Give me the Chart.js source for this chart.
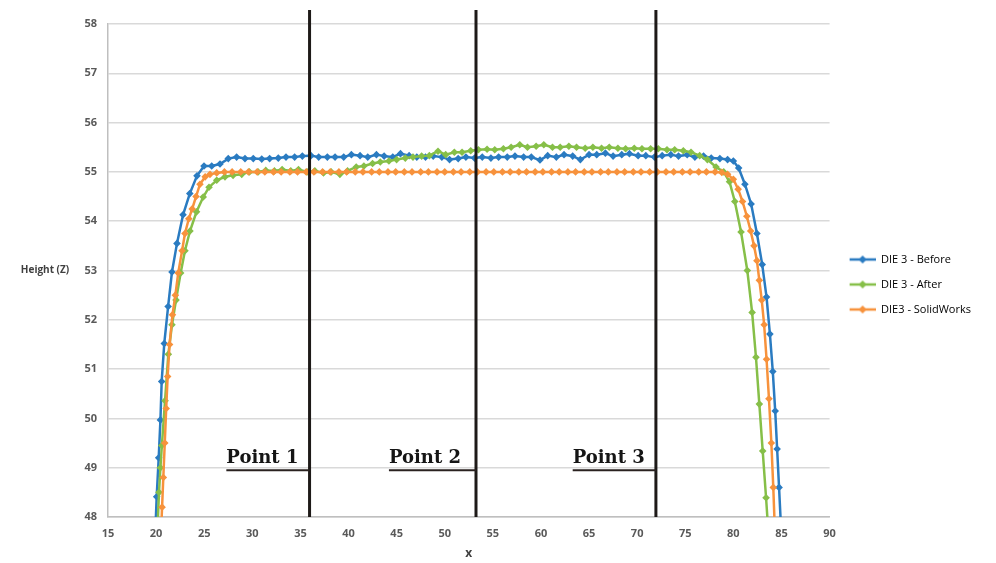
<!DOCTYPE html>
<html>
<head>
<meta charset="utf-8">
<script src="https://cdn.jsdelivr.net/npm/chart.js@4/dist/chart.umd.min.js"></script>
<style>
  html, body { margin: 0; padding: 0; background: #fff; }
  #wrap { width: 996px; height: 563px; position: relative; }
</style>
</head>
<body>
<div id="wrap"><canvas id="chart"></canvas></div>
<script>
// DIE 3 - Before
const beforeX = [19.9, 20.06, 20.27, 20.45, 20.58, 20.85, 21.25, 21.65, 22.17, 22.8,
  23.5, 24.25, 24.98, 25.78, 26.64, 27.5, 28.37, 29.24, 30.1, 30.98,
  31.8, 32.7, 33.5, 34.4, 35.2, 36.1, 36.9, 37.8, 38.6, 39.5,
  40.3, 41.2, 42.0, 42.9, 43.7, 44.6, 45.4, 46.3, 47.1, 48.0,
  48.8, 49.7, 50.5, 51.4, 52.2, 53.1, 53.9, 54.8, 55.6, 56.5,
  57.3, 58.2, 59.0, 59.9, 60.7, 61.6, 62.4, 63.3, 64.1, 65.0,
  65.8, 66.7, 67.5, 68.4, 69.2, 70.1, 70.9, 71.8, 72.6, 73.5,
  74.3, 75.2, 76.0, 76.9, 77.7, 78.6, 79.4, 80.0, 80.55, 81.2,
  81.85, 82.45, 83.0, 83.45, 83.8, 84.1, 84.35, 84.55, 84.75, 84.95];
const beforeY = [47.6, 48.41, 49.2, 49.97, 50.75, 51.52, 52.27, 52.97, 53.55, 54.13,
  54.56, 54.92, 55.12, 55.12, 55.16, 55.27, 55.3, 55.27, 55.27, 55.26,
  55.27, 55.28, 55.3, 55.3, 55.32, 55.33, 55.3, 55.3, 55.3, 55.3,
  55.35, 55.33, 55.3, 55.35, 55.32, 55.3, 55.37, 55.33, 55.3, 55.3,
  55.32, 55.3, 55.25, 55.27, 55.3, 55.28, 55.3, 55.28, 55.3, 55.3,
  55.32, 55.3, 55.3, 55.24, 55.33, 55.3, 55.35, 55.32, 55.25, 55.35,
  55.35, 55.38, 55.32, 55.35, 55.37, 55.33, 55.33, 55.3, 55.33, 55.35,
  55.32, 55.35, 55.3, 55.32, 55.28, 55.27, 55.25, 55.22, 55.08, 54.75,
  54.35, 53.75, 53.12, 52.46, 51.71, 50.95, 50.15, 49.38, 48.6, 47.8];

// DIE 3 - After
const afterX = [20.15, 20.3, 20.45, 20.6, 20.93, 21.27, 21.65, 22.07, 22.55, 23.0,
  23.52, 24.2, 24.9, 25.5, 26.3, 27.16, 28.0, 28.9, 29.7, 30.6,
  31.4, 32.3, 33.1, 34.0, 34.8, 35.7, 36.5, 37.4, 38.2, 39.1,
  39.9, 40.8, 41.6, 42.5, 43.3, 44.2, 45.0, 45.9, 46.7, 47.6,
  48.4, 49.3, 50.1, 51.0, 51.8, 52.7, 53.5, 54.4, 55.2, 56.1,
  56.9, 57.8, 58.6, 59.5, 60.3, 61.2, 62.0, 62.9, 63.7, 64.6,
  65.4, 66.3, 67.1, 68.0, 68.8, 69.7, 70.5, 71.4, 72.2, 73.1,
  73.9, 74.8, 75.6, 76.5, 77.3, 78.2, 79.0, 79.6, 80.15, 80.8,
  81.45, 81.95, 82.35, 82.7, 83.05, 83.4, 83.6];
const afterY = [47.8, 48.5, 49.0, 49.45, 50.36, 51.3, 51.9, 52.4, 52.95, 53.4,
  53.8, 54.19, 54.49, 54.69, 54.83, 54.9, 54.93, 54.95, 55.0, 55.0,
  55.03, 55.02, 55.05, 55.02, 55.05, 55.0, 55.02, 54.98, 55.0, 54.95,
  55.02, 55.1, 55.12, 55.17, 55.2, 55.22, 55.25, 55.28, 55.3, 55.32,
  55.33, 55.42, 55.35, 55.4, 55.4, 55.43, 55.45, 55.46, 55.45, 55.47,
  55.5, 55.55, 55.5, 55.52, 55.55, 55.5, 55.5, 55.52, 55.5, 55.48,
  55.5, 55.48, 55.5, 55.48, 55.47, 55.48, 55.47, 55.47, 55.47, 55.45,
  55.45, 55.43, 55.4, 55.33, 55.25, 55.1, 55.0, 54.8, 54.4, 53.78,
  53.0, 52.15, 51.24, 50.29, 49.34, 48.39, 47.8];

// DIE3 - SolidWorks
const swX = [20.5, 20.62, 20.75, 20.9, 21.05, 21.2, 21.4, 21.7, 22.0, 22.3,
  22.7, 23.0, 23.4, 23.75, 24.15, 24.56, 25.1, 25.6, 26.3, 27.1,
  27.9, 28.8, 29.6, 30.5, 31.3, 32.2, 33.0, 33.9, 34.7, 35.6,
  36.4, 37.3, 38.1, 39.0, 39.8, 40.7, 41.5, 42.4, 43.2, 44.1,
  44.9, 45.8, 46.6, 47.5, 48.3, 49.2, 50.0, 50.9, 51.7, 52.6,
  53.4, 54.3, 55.1, 56.0, 56.8, 57.7, 58.5, 59.4, 60.2, 61.1,
  61.9, 62.8, 63.6, 64.5, 65.3, 66.2, 67.0, 67.9, 68.7, 69.6,
  70.4, 71.3, 72.1, 73.0, 73.8, 74.7, 75.5, 76.4, 77.2, 78.1,
  78.8, 79.4, 80.0, 80.5, 80.95, 81.4, 81.8, 82.15, 82.45, 82.7,
  82.95, 83.2, 83.45, 83.7, 83.95, 84.15, 84.3];
const swY = [47.6, 48.2, 48.8, 49.5, 50.2, 50.85, 51.5, 52.1, 52.5, 52.95,
  53.4, 53.75, 54.05, 54.25, 54.5, 54.75, 54.9, 54.95, 54.98, 55.0,
  55, 55, 55, 55, 55, 55, 55, 55, 55, 55,
  55, 55, 55, 55, 55, 55, 55, 55, 55, 55,
  55, 55, 55, 55, 55, 55, 55, 55, 55, 55,
  55, 55, 55, 55, 55, 55, 55, 55, 55, 55,
  55, 55, 55, 55, 55, 55, 55, 55, 55, 55,
  55, 55, 55, 55, 55, 55, 55, 55, 55, 55,
  54.99, 54.95, 54.85, 54.65, 54.4, 54.1, 53.8, 53.5, 53.2, 52.8,
  52.4, 51.9, 51.2, 50.4, 49.5, 48.6, 47.8];

const seriesNames = ['DIE 3 - Before', 'DIE 3 - After', 'DIE3 - SolidWorks'];
const seriesColors = ['#2a7bc1', '#86bf48', '#f7923c'];

// vertical "Point" markers
const markerX = [35.95, 53.25, 71.95];
const markerLabels = ['Point 1', 'Point 2', 'Point 3'];
const markerLabelX = [27.3, 44.2, 63.3];
const markerLabelY = 49.1;
const markerUnderlineY = 48.95;

const xTicks = [15, 90, 5];   // min, max, step
const yTicks = [48, 58, 1];

function toPoints(xs, ys) {
  return xs.map((x, i) => ({ x: x, y: ys[i] }));
}

// small line + diamond icon for the legend
function legendIcon(color) {
  const c = document.createElement('canvas');
  c.width = 32; c.height = 12;
  const g = c.getContext('2d');
  g.strokeStyle = color; g.lineWidth = 2.5;
  g.beginPath(); g.moveTo(6, 6); g.lineTo(32, 6); g.stroke();
  g.fillStyle = color;
  g.beginPath(); g.moveTo(19, 2); g.lineTo(23, 6); g.lineTo(19, 10); g.lineTo(15, 6); g.closePath(); g.fill();
  return c;
}

const extras = {
  id: 'extras',
  afterDatasetsDraw(chart) {
    const { ctx, chartArea, scales: { x, y } } = chart;
    ctx.save();
    markerX.forEach((v, i) => {
      const px = x.getPixelForValue(v);
      ctx.strokeStyle = '#1e1a18';
      ctx.lineWidth = 3;
      ctx.beginPath();
      ctx.moveTo(px, chartArea.top - 14);
      ctx.lineTo(px, chartArea.bottom);
      ctx.stroke();

      const sx = x.getPixelForValue(markerLabelX[i]);
      ctx.font = 'bold 18px "DejaVu Serif"';
      ctx.fillStyle = '#151515';
      ctx.textAlign = 'left';
      ctx.textBaseline = 'alphabetic';
      ctx.fillText(markerLabels[i], sx, y.getPixelForValue(markerLabelY));

      const uy = y.getPixelForValue(markerUnderlineY);
      ctx.strokeStyle = '#2a2220';
      ctx.lineWidth = 2;
      ctx.beginPath();
      ctx.moveTo(sx, uy);
      ctx.lineTo(px, uy);
      ctx.stroke();
    });

    // horizontal y-axis title
    ctx.font = 'bold 10px "Open Sans"';
    ctx.fillStyle = '#404040';
    ctx.textAlign = 'center';
    ctx.textBaseline = 'middle';
    ctx.fillText('Height (Z)', 45, (chartArea.top + chartArea.bottom) / 2);
    ctx.restore();
  }
};

new Chart(document.getElementById('chart'), {
  type: 'line',
  data: {
    datasets: seriesNames.map((name, i) => ({
      label: name,
      data: toPoints([beforeX, afterX, swX][i], [beforeY, afterY, swY][i]),
      borderColor: seriesColors[i],
      backgroundColor: seriesColors[i],
      borderWidth: 2.5,
      pointStyle: 'rectRot',
      pointRadius: 3.8,
      pointBorderWidth: 0,
      tension: 0,
      order: 2 - i
    }))
  },
  options: {
    responsive: true,
    maintainAspectRatio: false,
    animation: false,
    layout: { padding: { top: 24, right: 15, left: 0, bottom: 18 } },
    plugins: {
      tooltip: { enabled: false },
      legend: {
        position: 'right',
        labels: {
          usePointStyle: true,
          pointStyleWidth: 32,
          padding: 14,
          color: '#404040',
          font: { family: '"Open Sans"', size: 11 },
          generateLabels: chart => chart.data.datasets.map((ds, i) => ({
            text: ds.label,
            pointStyle: legendIcon(seriesColors[i]),
            fillStyle: seriesColors[i],
            strokeStyle: seriesColors[i],
            lineWidth: 0,
            hidden: false,
            datasetIndex: i
          }))
        }
      }
    },
    scales: {
      x: {
        type: 'linear',
        min: xTicks[0], max: xTicks[1],
        ticks: { stepSize: xTicks[2], padding: 10, color: '#595959', font: { family: '"Open Sans"', size: 11, weight: 'bold' } },
        grid: { display: false, drawTicks: false },
        border: { display: true, color: '#bfbfbf', width: 1.5 },
        title: { display: true, text: 'x', color: '#404040', font: { family: '"Open Sans"', size: 12, weight: 'bold' }, padding: { top: 0, bottom: -16 } },
        afterFit: s => { s.height = 28; }
      },
      y: {
        min: yTicks[0], max: yTicks[1],
        ticks: { stepSize: yTicks[2], padding: 11, color: '#595959', font: { family: '"Open Sans"', size: 11, weight: 'bold' } },
        grid: { color: '#d9d9d9', lineWidth: 1.5, drawTicks: false },
        border: { display: true, color: '#bfbfbf', width: 1.5 },
        afterFit: s => { s.width = 108; }
      }
    }
  },
  plugins: [extras]
});
</script>
</body>
</html>
